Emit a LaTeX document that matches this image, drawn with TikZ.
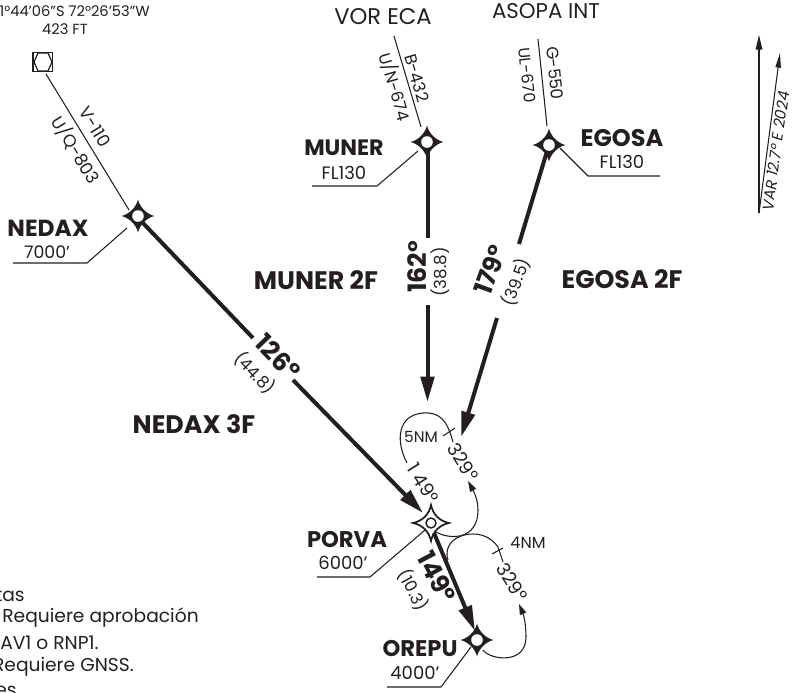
\documentclass[tikz,border=0pt]{standalone}
\usepackage{fontspec}
\setmainfont{Poppins}
\usetikzlibrary{arrows.meta,calc}
\definecolor{ink}{HTML}{231F20}
\tikzset{
  thin leg/.style={draw=ink,line width=0.8pt},
  thick leg/.style={draw=ink,line width=3pt},
  arrow leg/.style={draw=ink,line width=3pt,-{Triangle[length=19pt,width=10pt]}},
  hold/.style={draw=ink,line width=0.8pt},
  hold arrow/.style={draw=ink,line width=0.8pt,-{Triangle[length=8pt,width=5pt]}},
  txt/.style={text=ink,inner sep=0pt,font=\fontsize{#1}{#1}\selectfont},
  bld/.style={text=ink,inner sep=0pt,font=\fontsize{#1}{#1}\selectfont\bfseries}
}
\newcommand{\wpt}[2]{%
  \fill[ink] ($(#1)+(0,-#2)$) .. controls ($(#1)+(2,-8.5)$) and ($(#1)+(8.5,-2)$) .. ($(#1)+(#2,0)$)
   .. controls ($(#1)+(8.5,2)$) and ($(#1)+(2,8.5)$) .. ($(#1)+(0,#2)$)
   .. controls ($(#1)+(-2,8.5)$) and ($(#1)+(-8.5,2)$) .. ($(#1)+(-#2,0)$)
   .. controls ($(#1)+(-8.5,-2)$) and ($(#1)+(-2,-8.5)$) .. cycle;
  \fill[white] (#1) circle (5.8);
}
\begin{document}
\begin{tikzpicture}[x=0.75pt,y=-0.75pt]
\useasboundingbox (0,0) rectangle (794,693);
\clip (0,0) rectangle (794,693);
% way-point positions
\coordinate (apt) at (48,62);
\coordinate (nedax) at (138,216);
\coordinate (muner) at (427,142);
\coordinate (egosa) at (549,145);
\coordinate (porva) at (431,523);
\coordinate (orepu) at (477,640);
\coordinate (vor) at (394,36);
\coordinate (asopa) at (538,39);
% airport
\draw[ink,line width=0.9pt,fill=white] (33,52.5) rectangle (52.5,71.5);
\draw[ink,line width=0.9pt] (38,53) -- (48,53) -- (52,62) -- (48,71) -- (38,71) -- (34,62) -- cycle;
% thin legs
\draw[thin leg] (46,74) -- (129,210);
\draw[thin leg] (vor) -- (421,127);
\draw[thin leg] (asopa) -- (547,126);
% thick legs
\draw[thick leg] (142,222) -- (253,338);
\draw[arrow leg] (293,380) -- (423,513);
\draw[thick leg] (427.5,150) -- (427.5,238);
\draw[arrow leg] (427.5,305) -- (427.5,402);
\draw[thick leg] (546.5,153) -- (519,244);
\draw[arrow leg] (497,318) -- (461,437);
% leaders
\draw[thin leg] (127,228) -- (87,263) -- (13,263);
\draw[thin leg] (418,151) -- (377,186) -- (312,186);
\draw[thin leg] (560,148) -- (588,176) -- (660,176);
\draw[thin leg] (425,530) -- (370,577) -- (317,577);
\draw[thin leg] (471,647) -- (441,687) -- (387,687);
% holds
\draw[hold] (407,463) .. controls (395,440) and (398,415) .. (423,413) .. controls (440,412) and (447,420) .. (453,442);
\draw[hold] (443,436) -- (455,428);
\draw[hold arrow] (436,532) .. controls (450,540) and (478,540) .. (478,510) .. controls (478,500) and (474,492) .. (468,481);
\draw[hold] (448,560) .. controls (443,545) and (456,534) .. (473,534) .. controls (485,534) and (493,540) .. (498,547) -- (503,562);
\draw[hold] (492,554) -- (503,548);
\draw[hold arrow] (483,650) .. controls (490,660) and (526,665) .. (526,637) .. controls (526,625) and (524,616) .. (519,604);
% waypoints
\wpt{nedax}{16.5}
\wpt{muner}{16.5}
\wpt{egosa}{16.5}
\wpt{orepu}{16.5}
\draw[ink,line width=1.3pt,fill=white] ($(porva)+(0,-18)$) .. controls ($(porva)+(2,-8.5)$) and ($(porva)+(8.5,-2)$) .. ($(porva)+(18,0)$)
  .. controls ($(porva)+(8.5,2)$) and ($(porva)+(2,8.5)$) .. ($(porva)+(0,18)$)
  .. controls ($(porva)+(-2,8.5)$) and ($(porva)+(-8.5,2)$) .. ($(porva)+(-18,0)$)
  .. controls ($(porva)+(-8.5,-2)$) and ($(porva)+(-2,-8.5)$) .. cycle;
\draw[ink,line width=1.1pt,fill=white] (porva) circle (5);
\draw[arrow leg] (434,533) -- (475,631);
% north / variation
\coordinate (varb) at (759,213);
\draw[ink,line width=0.8pt,-{Triangle[length=11pt,width=5pt]}] (varb) -- (759,35);
\draw[ink,line width=0.8pt,-{Triangle[length=11pt,width=4pt]}] (varb) -- (780,53);
\node[txt=11.5,rotate=82] (var) at (776,151) {\itshape VAR 12.7° E 2024};
% text
\node[txt=11,anchor=east] (coord) at (150,11) {1°44'06"S 72°26'53"W};
\node[txt=11] (elev) at (65,29) {423 FT};
\node[txt=13,rotate=-58.6] (v110) at (95,127) {V-110};
\node[txt=13,rotate=-58.6] (uq) at (76,150) {U/Q-803};
\node[bld=17.5] (nname) at (48,228) {NEDAX};
\node[txt=13] (nalt) at (47,252) {7000'};
\node[txt=17] (vorn) at (383,17) {VOR ECA};
\node[txt=16] (asp) at (546,11) {ASOPA INT};
\node[txt=12.5,rotate=-73.5] (b432) at (417,78) {B-432};
\node[txt=12.5,rotate=-73.5] (un) at (395,87) {U/N-674};
\node[txt=12.5,rotate=-84] (g550) at (555,73) {G-550};
\node[txt=12,rotate=-84] (ul) at (527,75) {UL-670};
\node[bld=16.7] (mname) at (344,148) {MUNER};
\node[txt=13.5] (mfl) at (344,173) {FL130};
\node[bld=18] (ename) at (622,138) {EGOSA};
\node[txt=13.5] (efl) at (622,162) {FL130};
\node[bld=19] (m2f) at (316,280) {MUNER 2F};
\node[bld=19] (e2f) at (622,279) {EGOSA 2F};
\node[bld=19] (n3f) at (194,424) {NEDAX 3F};
\node[bld=19,rotate=90] (c162) at (417,267) {162°};
\node[txt=12.5,rotate=90] (d388) at (440,272) {(38.8)};
\node[bld=19,rotate=70] (c179) at (490,270) {179°};
\node[txt=12.5,rotate=70] (d395) at (516,282) {(39.5)};
\node[bld=19,rotate=-46] (c126) at (278,357) {126°};
\node[txt=12.5,rotate=-46] (d448) at (255,373) {(44.8)};
\node[txt=14,rotate=-58] (h149) at (423,483) {1 49°};
\node[txt=14,rotate=-58] (h329) at (463,462) {329°};
\node[txt=11.5] (nm5) at (421,437) {5NM};
\node[txt=12] (nm4) at (528,543) {4NM};
\node[txt=14,rotate=-58] (o329) at (512,582) {329°};
\node[bld=19,rotate=-62] (c149) at (437,577) {149°};
\node[txt=12.5,rotate=-62] (d103) at (413,590) {(10.3)};
\node[bld=17] (pname) at (347,540) {PORVA};
\node[txt=13.5] (palt) at (343,563) {6000'};
\node[bld=17] (oname) at (420,649) {OREPU};
\node[txt=13.5] (oalt) at (415,673) {4000'};
\node[txt=14,anchor=east] (ln1) at (25,595) {tas};
\node[txt=14,anchor=east] (ln2) at (199,618) {Requiere aprobación};
\node[txt=14,anchor=west] (ln3) at (0,643) {AV1 o RNP1.};
\node[txt=14,anchor=east] (ln4) at (134,667) {Requiere GNSS.};
\node[txt=14,anchor=east] (ln5) at (17,691) {es};
\end{tikzpicture}
\end{document}
